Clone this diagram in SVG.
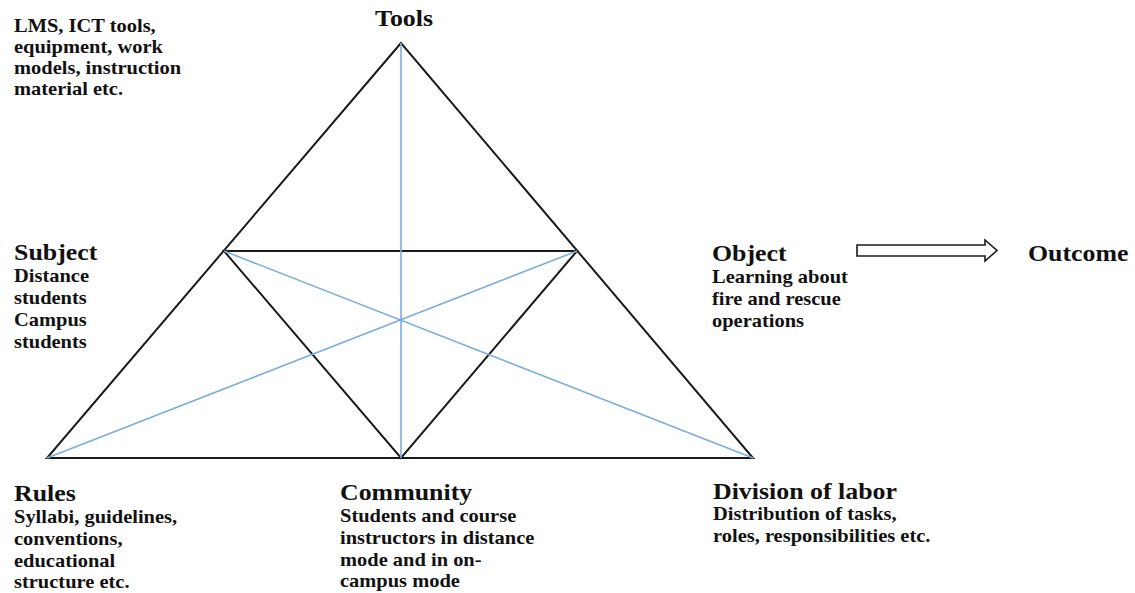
<svg xmlns="http://www.w3.org/2000/svg" width="1135" height="593" viewBox="0 0 1135 593">
  <style>
    text { font-family: "Liberation Serif", "Times New Roman", serif; font-weight: bold; fill: #111; }
    .head { font-size: 22.5px; }
    .body { font-size: 17.8px; }
    .edge { stroke: #1a1a1a; stroke-width: 2; fill: none; stroke-linecap: round; }
    .axis { stroke: #7aaedc; stroke-width: 1.6; fill: none; }
    .flow { fill: #fff; stroke: #1a1a1a; stroke-width: 1.6; stroke-linejoin: miter; }
  </style>
  <rect width="1135" height="593" fill="#fff"/>

  <!-- triangle structure -->
  <g id="connectors">
    <polygon class="edge" points="401,43 47,458 753,458"/>
    <polygon class="edge" points="224,251 577,251 401,458"/>
    <line class="axis" x1="401" y1="43" x2="401" y2="458"/>
    <line class="axis" x1="224" y1="251" x2="753" y2="458"/>
    <line class="axis" x1="577" y1="251" x2="47" y2="458"/>
    <polygon class="flow" points="857,245 985,245 985,240 997,250.5 985,261 985,256 857,256"/>
  </g>

  <g id="tools">
    <text class="head" transform="translate(375 26) scale(1.15 1)">Tools</text>
    <text class="body" transform="translate(14 32) scale(1.15 1)">
      <tspan x="0" y="0">LMS, ICT tools,</tspan>
      <tspan x="0" y="21">equipment, work</tspan>
      <tspan x="0" y="42">models, instruction</tspan>
      <tspan x="0" y="63">material etc.</tspan>
    </text>
  </g>

  <g id="subject">
    <text class="head" transform="translate(14 260) scale(1.15 1)">Subject</text>
    <text class="body" transform="translate(14 282) scale(1.15 1)">
      <tspan x="0" y="0">Distance</tspan>
      <tspan x="0" y="22">students</tspan>
      <tspan x="0" y="44">Campus</tspan>
      <tspan x="0" y="66">students</tspan>
    </text>
  </g>

  <g id="object">
    <text class="head" transform="translate(712 261) scale(1.15 1)">Object</text>
    <text class="body" transform="translate(712 283) scale(1.15 1)">
      <tspan x="0" y="0">Learning about</tspan>
      <tspan x="0" y="22">fire and rescue</tspan>
      <tspan x="0" y="44">operations</tspan>
    </text>
  </g>

  <g id="outcome">
    <text class="head" transform="translate(1028 261) scale(1.15 1)">Outcome</text>
  </g>

  <g id="rules">
    <text class="head" transform="translate(14 501) scale(1.15 1)">Rules</text>
    <text class="body" transform="translate(14 523) scale(1.15 1)">
      <tspan x="0" y="0">Syllabi, guidelines,</tspan>
      <tspan x="0" y="22">conventions,</tspan>
      <tspan x="0" y="44">educational</tspan>
      <tspan x="0" y="65">structure etc.</tspan>
    </text>
  </g>

  <g id="community">
    <text class="head" transform="translate(340 500) scale(1.15 1)">Community</text>
    <text class="body" transform="translate(340 522) scale(1.15 1)">
      <tspan x="0" y="0">Students and course</tspan>
      <tspan x="0" y="22">instructors in distance</tspan>
      <tspan x="0" y="44">mode and in on-</tspan>
      <tspan x="0" y="65">campus mode</tspan>
    </text>
  </g>

  <g id="division-of-labor">
    <text class="head" transform="translate(713 499) scale(1.15 1)">Division of labor</text>
    <text class="body" transform="translate(713 520) scale(1.15 1)">
      <tspan x="0" y="0">Distribution of tasks,</tspan>
      <tspan x="0" y="22">roles, responsibilities etc.</tspan>
    </text>
  </g>
</svg>
